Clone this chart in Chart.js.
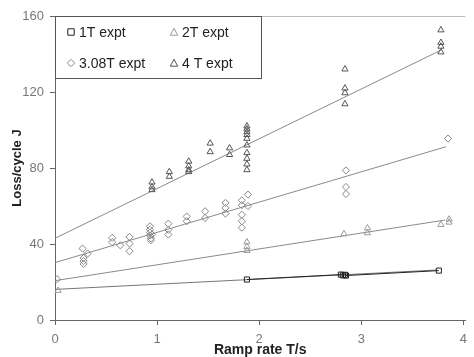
<!DOCTYPE html>
<html><head><meta charset="utf-8">
<script src="https://cdn.jsdelivr.net/npm/chart.js@4/dist/chart.umd.min.js"></script>
<style>html,body{margin:0;padding:0;background:#fff}#wrap{width:474px;height:357px;position:relative}</style>
</head><body><div id="wrap"><canvas id="c" width="474" height="357"></canvas></div>
<script>
// ---- data ----
const seriesNames = ['1T expt', '2T expt', '3.08T expt', '4 T expt'];
const x1T = [1.88, 2.80, 2.82, 2.84, 2.85, 3.76];
const y1T = [21.3, 23.9, 23.5, 23.8, 23.4, 26.0];
const x2T = [0.03, 1.88, 1.88, 1.88, 2.83, 3.06, 3.06, 3.78, 3.86, 3.86];
const y2T = [15.5, 41.0, 38.5, 36.5, 45.3, 48.4, 45.8, 50.2, 53.0, 51.4];
const x308T = [0.02, 0.27, 0.28, 0.28, 0.28, 0.32, 0.56, 0.56, 0.64, 0.73, 0.73, 0.73,
  0.93, 0.93, 0.93, 0.93, 0.94, 0.94, 0.95, 1.11, 1.11, 1.11, 1.29, 1.29, 1.47, 1.47,
  1.67, 1.67, 1.67, 1.83, 1.83, 1.83, 1.83, 1.83, 1.89, 1.89, 2.85, 2.85, 2.85, 3.85];
const y308T = [21.5, 37.6, 32.6, 31.0, 29.5, 35.0, 43.2, 41.0, 39.3, 43.7, 40.2, 36.2,
  49.3, 47.5, 46.0, 44.5, 43.0, 42.0, 45.0, 50.7, 47.5, 45.0, 54.5, 52.0, 57.2, 53.7,
  61.6, 59.0, 56.0, 63.0, 60.5, 55.4, 52.0, 48.6, 66.0, 60.0, 78.7, 70.0, 66.3, 95.5];
const x4T = [0.95, 0.95, 0.95, 1.12, 1.12, 1.31, 1.31, 1.31, 1.31, 1.52, 1.52, 1.71, 1.71,
  1.88, 1.88, 1.88, 1.88, 1.88, 1.88, 1.88, 1.88, 1.88, 1.88, 2.84, 2.84, 2.84, 2.84,
  3.78, 3.78, 3.78, 3.78];
const y4T = [72.5, 70.0, 68.5, 78.0, 75.5, 83.5, 81.0, 79.0, 78.0, 93.0, 88.5, 90.5, 87.0,
  102.0, 100.5, 99.0, 97.5, 95.5, 92.0, 88.0, 85.0, 82.0, 79.0, 132.0, 122.0, 119.5, 113.7,
  152.6, 146.0, 144.0, 141.0];
// trend lines: [xStart, xEnd] and [yStart, yEnd]
const trendX1T = [0, 3.74], trendY1T = [16.1, 26.3];
const trendX2T = [0, 3.82], trendY2T = [20.7, 52.6];
const trendX308T = [0, 3.83], trendY308T = [30.2, 91.2];
const trendX4T = [0, 3.78], trendY4T = [43.0, 142.0];
const xTicks = [0, 1, 2, 3, 4];
const yTicks = [0, 40, 80, 120, 160];

const pts = (xs, ys) => xs.map((x, i) => ({x, y: ys[i]}));
const sortPts = p => p.slice().sort((a, b) => a.x - b.x);

const styles = [
  {color: '#222', shape: 'rect'},
  {color: '#9a9a9a', shape: 'triangle'},
  {color: '#888', shape: 'rectRot'},
  {color: '#555', shape: 'triangle'}
];

function scatterDS(label, data, st, extra) {
  return Object.assign({
    type: 'scatter', label, data,
    pointStyle: st.shape, pointRadius: 3.6, pointBorderWidth: 1,
    borderColor: st.color, pointBackgroundColor: 'rgba(255,255,255,0)', backgroundColor: 'rgba(255,255,255,0)',
    showLine: false, order: 1
  }, extra || {});
}
function trendDS(xs, ys, color) {
  return {type: 'line', label: '', data: pts(xs, ys), borderColor: color, borderWidth: 1,
    pointRadius: 0, fill: false, order: 2};
}

const legendPlugin = {
  id: 'boxLegend',
  afterDraw(chart) {
    const ctx = chart.ctx;
    const L = chart.chartArea.left, T = chart.chartArea.top;
    ctx.save();
    ctx.fillStyle = '#fff';
    ctx.fillRect(L, T, 206, 62);
    ctx.strokeStyle = '#555';
    ctx.lineWidth = 1;
    ctx.strokeRect(L + 0.5, T + 0.5, 206, 62);
    const pos = [[L + 16, T + 16], [L + 119, T + 16], [L + 16, T + 47], [L + 119, T + 47]];
    ctx.font = "14px 'Liberation Sans', Arial, sans-serif";
    ctx.textBaseline = 'middle';
    pos.forEach((p, i) => {
      const st = styles[i];
      ctx.strokeStyle = st.color;
      ctx.lineWidth = 1;
      ctx.beginPath();
      const r = 3.2, cx = p[0], cy = p[1];
      if (st.shape === 'rect') { ctx.rect(cx - r, cy - r, 2 * r, 2 * r); }
      else if (st.shape === 'triangle') { ctx.moveTo(cx, cy - r - 0.5); ctx.lineTo(cx + r + 0.5, cy + r); ctx.lineTo(cx - r - 0.5, cy + r); ctx.closePath(); }
      else { ctx.moveTo(cx, cy - r - 0.5); ctx.lineTo(cx + r + 0.5, cy); ctx.lineTo(cx, cy + r + 0.5); ctx.lineTo(cx - r - 0.5, cy); ctx.closePath(); }
      ctx.stroke();
      ctx.fillStyle = '#222';
      ctx.fillText(seriesNames[i], cx + 8, cy + 1);
    });
    ctx.restore();
  }
};

new Chart(document.getElementById('c'), {
  data: {
    datasets: [
      trendDS(trendX4T, trendY4T, '#8a8a8a'),
      trendDS(trendX308T, trendY308T, '#8a8a8a'),
      trendDS(trendX2T, trendY2T, '#8a8a8a'),
      trendDS(trendX1T, trendY1T, '#777'),
      scatterDS(seriesNames[0], sortPts(pts(x1T, y1T)), styles[0], {showLine: true, borderWidth: 1}),
      scatterDS(seriesNames[1], pts(x2T, y2T), styles[1]),
      scatterDS(seriesNames[2], pts(x308T, y308T), styles[2]),
      scatterDS(seriesNames[3], pts(x4T, y4T), styles[3])
    ]
  },
  options: {
    responsive: false, animation: false,
    layout: {padding: {top: 16, right: 0, left: 3, bottom: 0}},
    plugins: {legend: {display: false}, tooltip: {enabled: false}},
    scales: {
      x: {
        type: 'linear', min: 0, max: 4.02,
        afterBuildTicks: s => { s.ticks = xTicks.map(v => ({value: v})); },
        afterFit: s => { s.height = 37; },
        grid: {drawOnChartArea: false, drawTicks: true, tickLength: 5, tickColor: '#666'},
        border: {display: true, color: '#666', width: 1},
        ticks: {color: '#777', padding: 7, font: {family: "'Liberation Sans', Arial, sans-serif", size: 13}, maxRotation: 0},
        title: {display: true, text: 'Ramp rate T/s', color: '#222', padding: {top: 0, bottom: -2},
          font: {family: "'Liberation Sans', Arial, sans-serif", size: 14, weight: 'bold'}}
      },
      y: {
        type: 'linear', min: 0, max: 160,
        afterBuildTicks: s => { s.ticks = yTicks.map(v => ({value: v})); },
        afterFit: s => { s.width = 52; },
        grid: {drawOnChartArea: true, drawTicks: true, tickLength: 5, tickColor: '#666',
          color: c => (c.tick && c.tick.value === 160) ? '#bbb' : 'rgba(0,0,0,0)'},
        border: {display: true, color: '#666', width: 1},
        ticks: {color: '#777', padding: 6, font: {family: "'Liberation Sans', Arial, sans-serif", size: 13}},
        title: {display: true, text: 'Loss/cycle J', color: '#222', padding: {top: 7, bottom: 0},
          font: {family: "'Liberation Sans', Arial, sans-serif", size: 13, weight: 'bold'}}
      }
    }
  },
  plugins: [legendPlugin]
});
</script></body></html>
